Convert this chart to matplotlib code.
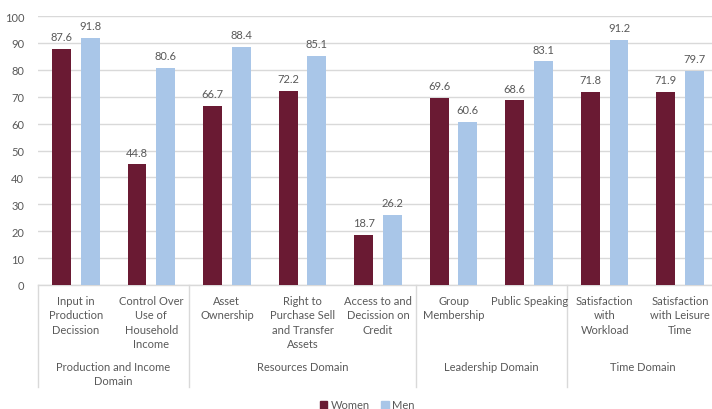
import matplotlib
matplotlib.use("Agg")
import matplotlib.pyplot as plt
from matplotlib.transforms import blended_transform_factory
from matplotlib.patches import Patch

categories = ["Input in\nProduction\nDecission", "Control Over\nUse of\nHousehold\nIncome",
              "Asset\nOwnership", "Right to\nPurchase Sell\nand Transfer\nAssets",
              "Access to and\nDecission on\nCredit", "Group\nMembership", "Public Speaking",
              "Satisfaction\nwith\nWorkload", "Satisfaction\nwith Leisure\nTime"]
women = [87.6, 44.8, 66.7, 72.2, 18.7, 69.6, 68.6, 71.8, 71.9]
men = [91.8, 80.6, 88.4, 85.1, 26.2, 60.6, 83.1, 91.2, 79.7]
domains = ["Production and Income\nDomain", "Resources Domain", "Leadership Domain", "Time Domain"]
domain_sizes = [2, 3, 2, 2]
yticks = [0, 10, 20, 30, 40, 50, 60, 70, 80, 90, 100]

W, H = 712, 410
TXT = "#595959"
GRID = "#D9D9D9"
C_W = "#6A1A33"
C_M = "#A9C6E8"
plt.rcParams['font.family'] = ['Lato', 'DejaVu Sans']

fig = plt.figure(figsize=(W / 100, H / 100), dpi=100)
ax = fig.add_axes([38 / W, (H - 286) / H, (718 - 38) / W, (286 - 17) / H])

x = [i + 0.5 for i in range(len(categories))]
bw = 0.25
off = 0.19
ax.bar([v - off for v in x], women, width=bw, color=C_W, zorder=3)
ax.bar([v + off for v in x], men, width=bw, color=C_M, zorder=3)
for xi, v in zip(x, women):
    ax.annotate(f"{v}", (xi - off, v), xytext=(0, 5), textcoords="offset points",
                ha="center", va="bottom", fontsize=8, color=TXT)
for xi, v in zip(x, men):
    ax.annotate(f"{v}", (xi + off, v), xytext=(0, 5), textcoords="offset points",
                ha="center", va="bottom", fontsize=8, color=TXT)

ax.set_xlim(0, len(categories))
ax.set_ylim(0, 100)
ax.set_yticks(yticks)
ax.set_yticklabels([str(t) for t in yticks], fontsize=8, color=TXT)
ax.tick_params(axis='y', length=0, pad=10)
ax.set_xticks([])
ax.grid(axis='y', color=GRID, linewidth=1, zorder=0)
for s in ["top", "right", "left"]:
    ax.spines[s].set_visible(False)
ax.spines["bottom"].set_color(GRID)
ax.spines["bottom"].set_linewidth(1)

tr = blended_transform_factory(ax.transData, fig.transFigure)
def fy(p):
    return 1 - p / H

for xi, lab in zip(x, categories):
    ax.text(xi, fy(296), lab, transform=tr, ha="center", va="top", fontsize=8,
            color=TXT, linespacing=1.38)

edges = [0]
for s in domain_sizes:
    edges.append(edges[-1] + s)
for e in edges:
    ax.plot([e, e], [fy(286), fy(388)], transform=tr, color=GRID, linewidth=1, clip_on=False)
for i, d in enumerate(domains):
    c = (edges[i] + edges[i + 1]) / 2
    ax.text(c, fy(362), d, transform=tr, ha="center", va="top", fontsize=8,
            color=TXT, linespacing=1.38)

handles = [Patch(color=C_W, label="Women"), Patch(color=C_M, label="Men")]
fig.legend(handles=handles, loc="center", bbox_to_anchor=(367 / W, fy(406)), ncol=2,
           frameon=False, fontsize=8, handlelength=0.7, handleheight=0.7,
           handletextpad=0.3, columnspacing=1.0, labelcolor=TXT)

fig.savefig("out.png", dpi=100)
